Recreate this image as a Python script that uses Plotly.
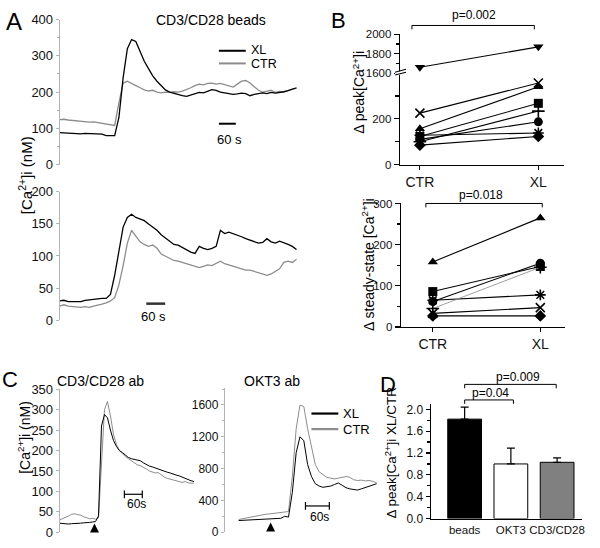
import plotly.graph_objects as go

W, H = 600, 548
FONT = "Liberation Sans, Arial, sans-serif"
BLACK = "#000000"
GRAY = "#8c8c8c"
AXGRAY = "#b4b4b4"

# ---------------- data ----------------
# Panel A: CD3/CD28 beads, [Ca2+]i (nM) vs time (s)
A_TIME = list(range(0, 841, 15))
A_TOP_XL = [88, 87, 86, 87, 86, 85, 86, 85, 84, 85,
            84, 80, 79, 80, 130, 240, 320, 345, 340, 310,
            285, 265, 245, 230, 218, 206, 200, 196, 193, 190,
            188, 192, 196, 199, 198, 203, 207, 205, 200, 198,
            196, 194, 195, 197, 196, 190, 194, 197, 198, 196,
            199, 197, 198, 201, 204, 207, 212]
A_TOP_CTR = [124, 125, 123, 122, 120, 118, 119, 117, 118, 116,
             114, 112, 110, 108, 170, 225, 230, 225, 218, 212,
             206, 203, 205, 200, 198, 200, 199, 201, 200, 203,
             207, 212, 218, 222, 220, 224, 225, 222, 224, 221,
             218, 214, 222, 230, 232, 225, 215, 205, 200, 203,
             205, 199, 202, 200, 205, 208, 210]
A_BOT_XL = [30, 31, 29, 29, 28, 29, 31, 32, 33, 33,
            34, 34, 40, 70, 110, 145, 160, 165, 160, 158,
            155, 150, 145, 140, 133, 128, 123, 118, 117, 113,
            110, 106, 104, 115, 112, 110, 112, 115, 140, 135,
            137, 135, 132, 130, 127, 125, 122, 120, 121, 127,
            122, 120, 123, 121, 118, 115, 110]
A_BOT_CTR = [22, 24, 22, 21, 20, 20, 21, 20, 22, 23,
             25, 27, 30, 35, 55, 85, 120, 140, 130, 122,
             118, 115, 117, 112, 103, 100, 97, 93, 92, 90,
             88, 86, 85, 82, 84, 86, 85, 88, 92, 88,
             86, 85, 82, 80, 78, 78, 76, 75, 73, 70,
             72, 76, 80, 90, 92, 90, 95]

# Panel B: individual experiments (CTR -> XL)
B_GROUPS = ["CTR", "XL"]
B_PEAK_SYMBOLS = ["x-thin-open", "triangle-up", "square", "cross-thin-open",
                  "circle", "asterisk-open", "diamond"]
B_PEAK_CTR = [225, 157, 123, 100, 110, 128, 85]
B_PEAK_XL = [357, 340, 268, 234, 187, 138, 123]
B_PEAK_HIGH_SYMBOL = "triangle-down"
B_PEAK_HIGH = [1660, 1870]
B_SS_SYMBOLS = ["triangle-up", "square", "circle", "asterisk-open",
                "cross-thin-open", "x-thin-open", "diamond"]
B_SS_CTR = [158, 86, 62, 65, 45, 33, 27]
B_SS_XL = [265, 147, 155, 78, 145, 47, 27]

# Panel C: antibody stimulation traces
C_LEFT_TIME = list(range(0, 451, 10))
C_LEFT_XL = [22, 21, 20, 20, 21, 21, 22, 22, 23, 23,
             24, 25, 26, 40, 260, 288, 280, 250, 225, 210,
             200, 195, 188, 183, 180, 178, 177, 175, 170, 165,
             162, 160, 157, 155, 152, 150, 147, 145, 142, 140,
             138, 135, 132, 128, 126, 124]
C_LEFT_CTR = [30, 33, 36, 40, 44, 45, 43, 42, 38, 35,
              33, 34, 32, 35, 180, 300, 320, 285, 240, 215,
              200, 192, 185, 180, 175, 170, 165, 163, 160, 155,
              150, 147, 145, 146, 140, 135, 132, 130, 128, 125,
              123, 122, 124, 121, 120, 120]
C_RIGHT_TIME = list(range(0, 361, 10))
C_RIGHT_XL = [147, 150, 148, 152, 155, 153, 158, 160, 162, 165,
              170, 175, 200, 190, 500, 1000, 1200, 1150, 850, 700,
              610, 580, 565, 570, 580, 600, 620, 590, 560, 545,
              540, 530, 545, 560, 580, 590, 610]
C_RIGHT_CTR = [160, 170, 180, 190, 200, 210, 220, 225, 230, 235,
               240, 245, 255, 260, 700, 1300, 1600, 1580, 1300, 1050,
               850, 760, 720, 690, 680, 670, 680, 690, 700, 690,
               660, 650, 655, 645, 650, 640, 620]

# Panel D: ratio XL/CTR
D_CATS = ["beads", "OKT3", "CD3/CD28"]
D_MEAN = [1.82, 1.00, 1.03]
D_SEM = [0.22, 0.29, 0.08]
D_COLORS = ["#000000", "#ffffff", "#808080"]

# ---------------- helpers ----------------
def PX(x):
    return x / W

def PY(y):
    return 1 - y / H

def XD(a, b):
    return [a / W, b / W]

def YD(top, bottom):
    return [1 - bottom / H, 1 - top / H]


fig = go.Figure()


def trace_line(x, y, xa, ya, color, width=1.3):
    fig.add_trace(go.Scatter(x=x, y=y, xaxis=xa, yaxis=ya, mode="lines",
                             line=dict(color=color, width=width),
                             showlegend=False, hoverinfo="skip"))


trace_line(A_TIME, A_TOP_CTR, "x", "y", GRAY)
trace_line(A_TIME, A_TOP_XL, "x", "y", BLACK)
trace_line(A_TIME, A_BOT_CTR, "x2", "y2", GRAY)
trace_line(A_TIME, A_BOT_XL, "x2", "y2", BLACK)
trace_line(C_LEFT_TIME, C_LEFT_CTR, "x6", "y6", GRAY, 1.0)
trace_line(C_LEFT_TIME, C_LEFT_XL, "x6", "y6", BLACK, 1.0)
trace_line(C_RIGHT_TIME, C_RIGHT_CTR, "x7", "y7", GRAY, 1.0)
trace_line(C_RIGHT_TIME, C_RIGHT_XL, "x7", "y7", BLACK, 1.0)


def mk(sym, size=9):
    is_open = sym.endswith("-open")
    return dict(symbol=sym, size=size, color="black",
                line=dict(color="black", width=1.6 if is_open else 0))


B_X = list(range(len(B_GROUPS)))
for sym, c, x in zip(B_PEAK_SYMBOLS, B_PEAK_CTR, B_PEAK_XL):
    fig.add_trace(go.Scatter(x=B_X, y=[c, x], xaxis="x3", yaxis="y3",
                             mode="lines+markers", line=dict(color="black", width=1.1),
                             marker=mk(sym), cliponaxis=False, showlegend=False))
fig.add_trace(go.Scatter(x=B_X, y=B_PEAK_HIGH, xaxis="x3", yaxis="y4",
                         mode="lines+markers", line=dict(color="black", width=1.1),
                         marker=mk(B_PEAK_HIGH_SYMBOL), cliponaxis=False, showlegend=False))
for sym, c, x in zip(B_SS_SYMBOLS, B_SS_CTR, B_SS_XL):
    thin = sym == "cross-thin-open"
    fig.add_trace(go.Scatter(x=B_X, y=[c, x], xaxis="x5", yaxis="y5",
                             mode="lines+markers",
                             line=dict(color="#888888" if thin else "black", width=0.8 if thin else 1.1),
                             marker=mk(sym), cliponaxis=False, showlegend=False))

D_X = list(range(len(D_CATS)))
fig.add_trace(go.Bar(x=D_X, y=D_MEAN, xaxis="x8", yaxis="y8", width=0.73,
                     marker=dict(color=D_COLORS, line=dict(color="black", width=1)),
                     error_y=dict(type="data", array=D_SEM, arrayminus=[0] * len(D_SEM),
                                  symmetric=False, color="black", thickness=1.2, width=4),
                     showlegend=False))

# ---------------- axes ----------------
hidden_x = dict(visible=False, showgrid=False, zeroline=False)
trace_y = dict(showline=True, linecolor=AXGRAY, linewidth=1, ticks="outside", ticklen=3,
               tickcolor=AXGRAY, showgrid=False, zeroline=False,
               tickfont=dict(size=13, color="#111"))
black_ax = dict(showline=True, linecolor="black", linewidth=1.3, ticks="outside", ticklen=5,
                tickcolor="black", tickwidth=1.2, showgrid=False, zeroline=False,
                tickangle=0, tickfont=dict(size=12, color="#111"))

layout_axes = dict(
    xaxis=dict(hidden_x, domain=XD(60, 300), range=[0, 847], anchor="y"),
    yaxis=dict(trace_y, domain=YD(13, 162), range=[0, 400], anchor="x",
               tickvals=[0, 100, 200, 300, 400],
               minor=dict(ticks="outside", ticklen=2, tickcolor=AXGRAY, dtick=50)),
    xaxis2=dict(hidden_x, domain=XD(60, 300), range=[0, 847], anchor="y2"),
    yaxis2=dict(trace_y, domain=YD(190, 322), range=[0, 200], anchor="x2",
                tickvals=[0, 50, 100, 150, 200]),
    xaxis3=dict(black_ax, domain=XD(402, 567), range=[-0.168, 1.218], anchor="y3",
                tickvals=B_X, ticktext=B_GROUPS, ticklen=4, tickfont=dict(size=14, color="#111")),
    yaxis3=dict(black_ax, domain=YD(68, 162), range=[0, 400], anchor="x3",
                tickvals=[0, 200], tickfont=dict(size=11.5, color="#111"),
                minor=dict(ticks="outside", ticklen=4, tickcolor="black", dtick=100)),
    yaxis4=dict(black_ax, domain=YD(28, 68), range=[1600, 2000], anchor="x3",
                tickvals=[1600, 1800, 2000], tickfont=dict(size=11.5, color="#111"),
                minor=dict(ticks="outside", ticklen=3, tickcolor="black", dtick=100)),
    xaxis5=dict(black_ax, domain=XD(403, 568), range=[-0.296, 1.231], anchor="y5",
                tickvals=B_X, ticktext=B_GROUPS, ticklen=4, tickfont=dict(size=14, color="#111")),
    yaxis5=dict(black_ax, domain=YD(202, 329), range=[0, 300], anchor="x5",
                tickvals=[0, 100, 200, 300], tickfont=dict(size=11.5, color="#111"),
                minor=dict(ticks="outside", ticklen=3, tickcolor="black", dtick=50)),
    xaxis6=dict(hidden_x, domain=XD(60, 198), range=[0, 460], anchor="y6"),
    yaxis6=dict(trace_y, domain=YD(393, 540), range=[0, 350], anchor="x6",
                tickvals=[0, 50, 100, 150, 200, 250, 300, 350], tickfont=dict(size=13, color="#111")),
    xaxis7=dict(hidden_x, domain=XD(226, 382), range=[-36, 369], anchor="y7"),
    yaxis7=dict(trace_y, domain=YD(392, 540), range=[0, 1810], anchor="x7",
                tickvals=[0, 400, 800, 1200, 1600], tickfont=dict(size=12, color="#111"),
                minor=dict(ticks="outside", ticklen=2, tickcolor=AXGRAY, dtick=200)),
    xaxis8=dict(black_ax, domain=XD(433, 585), range=[-0.731, 2.54], anchor="y8",
                tickvals=D_X, ticktext=D_CATS, ticks="", tickfont=dict(size=11.5, color="#111")),
    yaxis8=dict(black_ax, domain=YD(408, 526), range=[0, 2.1], anchor="x8",
                tickvals=[0, 0.4, 0.8, 1.2, 1.6, 2.0], tickformat=".1f", ticklen=4,
                minor=dict(ticks="outside", ticklen=3, tickcolor="black", dtick=0.2)),
)

# ---------------- annotations ----------------
ann = []


def text(x, y, s, size=13, angle=0, xanchor="center"):
    ann.append(dict(x=PX(x), y=PY(y), xref="paper", yref="paper", text=s, showarrow=False,
                    font=dict(size=size, color="black", family=FONT), textangle=angle,
                    xanchor=xanchor, yanchor="middle"))


CA = "[Ca<sup>2+</sup>]i"
text(14, 15, "A", 24)
text(340, 14, "B", 22)
text(10, 383, "C", 22)
text(390, 388, "D", 22)
text(212, 13, "CD3/CD28 beads", 14)
text(101, 385, "CD3/CD28 ab", 14)
text(273, 385, "OKT3 ab", 14)
text(25, 173, CA + " (nM)", 15, -90)
text(24, 442, CA + " (nM)", 14, -90)
text(360, 88, "Δ peak" + CA, 14, -90)
text(370, 265, "Δ steady-state " + CA, 14, -90)
text(393, 458, "Δ peak" + CA + " XL/CTR", 13.5, -90)
text(250, 44, "XL", 12.5, xanchor="left")
text(250, 59, "CTR", 12.5, xanchor="left")
text(343, 418, "XL", 13, xanchor="left")
text(343, 434, "CTR", 13, xanchor="left")
text(231, 136, "60 s", 13)
text(154, 318, "60 s", 13)
text(137, 511, "60s", 12)
text(321, 524, "60s", 12)
text(476, 8, "p=0.002", 12)
text(483, 193, "p=0.018", 12)
text(493, 397, "p=0.04", 12)
text(521, 380, "p=0.009", 12)

for ax_, tip in ((95, 531), (272, 530)):
    ann.append(dict(x=PX(ax_), y=PY(tip), xref="paper", yref="paper", text="", showarrow=True,
                    ax=0, ay=10, arrowhead=2, arrowsize=1.2, arrowwidth=1.5, arrowcolor="black"))

# ---------------- shapes ----------------
shp = []


def line(x0, y0, x1, y1, color="black", width=1.2):
    shp.append(dict(type="line", xref="paper", yref="paper", x0=PX(x0), y0=PY(y0),
                    x1=PX(x1), y1=PY(y1), line=dict(color=color, width=width)))


def bracket(x0, x1, y, drop=4):
    line(x0, y, x1, y, width=1)
    line(x0, y, x0, y + drop, width=1)
    line(x1, y, x1, y + drop, width=1)


line(220, 45, 247, 45, BLACK, 2)
line(220, 58, 247, 58, GRAY, 2)
line(313, 418, 340, 418, BLACK, 2.2)
line(313, 434, 340, 434, GRAY, 2.2)
line(220, 120, 237, 120, BLACK, 2)
line(147, 305, 166, 305, "#333", 2.5)
line(125, 501, 143, 501, BLACK, 1.2)
line(125, 497, 125, 505, BLACK, 1.2)
line(143, 497, 143, 505, BLACK, 1.2)
line(307, 513, 331, 513, BLACK, 1.2)
line(307, 509, 307, 517, BLACK, 1.2)
line(331, 509, 331, 517, BLACK, 1.2)
bracket(414, 537, 19)
bracket(428, 545, 202)
bracket(467, 516, 404)
bracket(467, 559, 388)
# axis break marks
shp.append(dict(type="rect", xref="paper", yref="paper", x0=PX(397), x1=PX(408),
                y0=PY(70), y1=PY(66), fillcolor="white", line=dict(width=0)))
line(397, 70, 408, 67, BLACK, 1.1)
line(397, 67, 408, 64, BLACK, 1.1)

fig.update_layout(
    width=W, height=H, autosize=False,
    margin=dict(l=0, r=0, t=0, b=0),
    paper_bgcolor="white", plot_bgcolor="rgba(0,0,0,0)",
    font=dict(family=FONT, color="black"),
    showlegend=False,
    annotations=ann, shapes=shp,
    **layout_axes,
)

fig.write_html("out.html",
               config={"displayModeBar": False, "staticPlot": True},
               post_script="document.body.style.margin='0px';document.body.style.overflow='hidden';")
